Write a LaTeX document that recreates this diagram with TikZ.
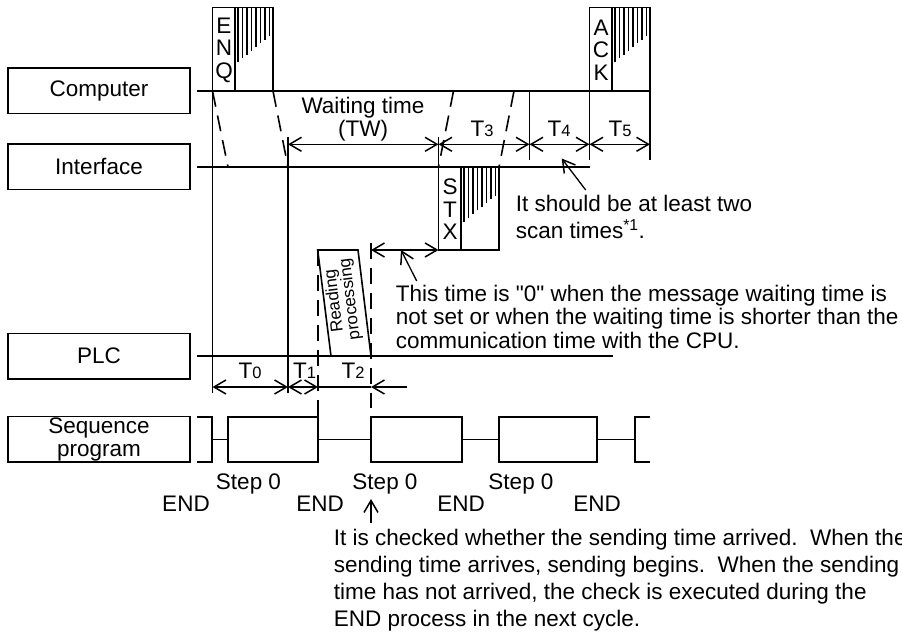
\documentclass[tikz,border=0pt]{standalone}
\usepackage{fontspec}
\setmainfont{Liberation Sans}
\newfontfamily\plainquote{Liberation Sans}
\usetikzlibrary{arrows.meta,calc,positioning}

\newcommand{\Tsub}[2]{T{\fontsize{16.5}{16.5}\selectfont #2}}

\begin{document}
\begin{tikzpicture}[
  x=1pt, y=-1pt,
  line width=1.6pt,
  font=\fontsize{22.5}{27}\selectfont,
  lane/.style={draw=black, minimum width=182pt, minimum height=45.5pt,
               outer sep=0pt, inner sep=0pt, align=center,
               font=\fontsize{22.5}{23}\selectfont},
  frame/.style={draw=black, line width=1.6pt},
  letters/.style={inner sep=0pt, align=center, font=\fontsize{22.5}{22.5}\selectfont},
  thinw/.style={line width=1.2pt},
  dashline/.style={dash pattern=on 16pt off 9pt, line width=1.6pt},
  arr/.style={-{Straight Barb[length=12pt,width=14pt,line width=1.5pt]}, line width=1.3pt},
  dim/.style={{Straight Barb[length=12pt,width=14pt,line width=1.5pt]}-{Straight Barb[length=12pt,width=14pt,line width=1.5pt]}, line width=1.3pt},
  note/.style={anchor=base west, inner sep=0pt, align=left},
  tag/.style={anchor=base, inner sep=0pt},
]
\useasboundingbox (0,0) rectangle (902,634);

% ---- lane boxes ----
\node[lane] (computer) at (99,90.75) {Computer};
\node[lane, below=30.5pt of computer] (interface) {Interface};
\node[lane, below=144pt of interface] (plc) {PLC};
\node[lane, below=37.5pt of plc] (seq) {Sequence\\program};

% ---- lane lines ----
\coordinate (cl) at (197,91);  \coordinate (cr) at (650,91);
\coordinate (il) at (197,167); \coordinate (ir) at (590,167);
\coordinate (pl) at (197,356); \coordinate (pr) at (613,356);
\draw (cl) -- (cr);
\draw (il) -- (ir);
\draw (pl) -- (pr);

% ---- frames ----
\draw[frame] (212.5,91) |- (273,7.5) -- (273,91);
\draw[frame] (235,7.5) -- (235,91);
\draw[frame] (589.5,91) |- (650,7.5) -- (650,91);
\draw[frame] (612,7.5) -- (612,91);
\draw[frame] (438.5,167) -- (438.5,250) -| (499,167);
\draw[frame] (461,167) -- (461,250);
\node[letters] (enq) at (224,50) {E\\N\\Q};
\node[letters] (ack) at (601,50) {A\\C\\K};
\node[letters] (stx) at (450,209.5) {S\\T\\X};

% ---- hatching ----
\foreach \ox/\oy in {0/0, 377/0, 226/159.5}
  \foreach \i in {0,...,7}
    \draw[line width=1.7pt] ({238+4.5*\i+\ox},{8+\oy}) -- ({238+4.5*\i+\ox},{62-3.7*\i+\oy});

% ---- verticals ----
\coordinate (a0) at (212.5,91);  \coordinate (a1) at (212.5,393);
\coordinate (b0) at (288,137);   \coordinate (b1) at (288,393);
\coordinate (c0) at (438.5,137); \coordinate (c1) at (438.5,167);
\coordinate (d0) at (529.5,91);  \coordinate (d1) at (529.5,159.5);
\coordinate (e0) at (589.5,91);  \coordinate (e1) at (589.5,159.5);
\coordinate (f0) at (650,91);    \coordinate (f1) at (650,159.5);
\draw (a0) -- (a1);
\draw (b0) -- (b1);
\draw (c0) -- (c1);
\draw (d0) -- (d1);
\draw (e0) -- (e1);
\draw (f0) -- (f1);

% ---- dashed ----
\coordinate (s0) at (318,250); \coordinate (s1) at (318,417);
\coordinate (r0) at (371,243); \coordinate (r1) at (371,408);
\draw[dashline] (s0) -- (s1);
\draw[dashline] (r0) -- (r1);
\draw[dashline] (a0) -- (228,167);
\draw[dashline] (273,91) -- (288,167);
\draw[dashline] (453.5,91) -- (438.5,167);
\draw[dashline] (514,91) -- (499,167);

% ---- reading processing ----
\draw (331,356) -- (317.7,250) -- (358,250) -- (371,356);
\node[rotate=97, inner sep=0pt, align=center, font=\fontsize{17}{16}\selectfont]
  (reading) at (342.5,300) {Reading\\processing};

% ---- dimension arrows ----
\coordinate (y1b) at (288,144.3);   \coordinate (y1c) at (438.5,144.3);
\coordinate (y1d) at (529.5,144.3); \coordinate (y1e) at (589.5,144.3);
\coordinate (y1f) at (650,144.3);
\draw[dim] (y1b) -- (y1c);
\draw[dim] (y1c) -- (y1d);
\draw[dim] (y1d) -- (y1e);
\draw[dim] (y1e) -- (y1f);
\coordinate (y2r) at (371,250); \coordinate (y2c) at (438.5,250);
\draw[dim] (y2r) -- (y2c);
\coordinate (y3a) at (212.5,387); \coordinate (y3b) at (288,387);
\coordinate (y3s) at (318,387);   \coordinate (y3r) at (371,387);
\coordinate (y3e) at (407,387);
\draw[dim] (y3a) -- (y3b);
\draw[dim] (y3b) -- (y3s);
\draw[line width=1.3pt] (y3s) -- (y3r);
\draw[arr] (y3e) -- (y3r);

% ---- time labels ----
\node[tag] (t0) at (250,378) {\Tsub{T}{0}};
\node[tag] (t1) at (304.5,378) {\Tsub{T}{1}};
\node[tag] (t2) at (353,378) {\Tsub{T}{2}};
\node[tag] (t3) at (482,136) {\Tsub{T}{3}};
\node[tag] (t4) at (559,136) {\Tsub{T}{4}};
\node[tag] (t5) at (620,136) {\Tsub{T}{5}};
\node[align=center, inner sep=0pt, font=\fontsize{22.5}{23}\selectfont]
  (wait) at (363,119) {Waiting time\\(TW)};

% ---- sequence wave ----
\draw (197,417) -- (212,417) -- (212,462) -- (197,462);
\draw (228,417) rectangle (318,462);
\draw (371,417) rectangle (461.7,462);
\draw (499,417) rectangle (597,462);
\draw (650,417) -- (635,417) -- (635,462) -- (650,462);
\draw[thinw] (212,439.5) -- (228,439.5);
\draw[thinw] (318,439.5) -- (371,439.5);
\draw[thinw] (461.7,439.5) -- (499,439.5);
\draw[thinw] (597,439.5) -- (635,439.5);

\node[tag] (step1) at (248.5,489) {Step 0};
\node[tag] (step2) at (385,489) {Step 0};
\node[tag] (step3) at (521,489) {Step 0};
\node[tag] (end1) at (186,511.7) {END};
\node[tag] (end2) at (320,511.7) {END};
\node[tag] (end3) at (461,511.7) {END};
\node[tag] (end4) at (597,511.7) {END};

% ---- notes ----
\node[note] (scan) at (515,238) {It should be at least two\\scan times\textsuperscript{*1}.};
\node[note, font=\fontsize{22.5}{23.3}\selectfont] (zero) at (395,348)
  {This time is {\plainquote"0"} when the message waiting time is\\not set or when the waiting time is shorter than the\\communication time with the CPU.};
\node[note] (check) at (333,626)
  {It is checked whether the sending time arrived.\ \ When the\\sending time arrives, sending begins.\ \ When the sending\\time has not arrived, the check is executed during the\\END process in the next cycle.};

\coordinate (n1a) at (585.7,190); \coordinate (n1b) at (561.7,158.5);
\coordinate (n2a) at (416.7,281); \coordinate (n2b) at (401,250);
\coordinate (n3a) at (371,523);   \coordinate (n3b) at (371,499);
\draw[arr] (n1a) -- (n1b);
\draw[arr] (n2a) -- (n2b);
\draw[arr] (n3a) -- (n3b);

\end{tikzpicture}
\end{document}
